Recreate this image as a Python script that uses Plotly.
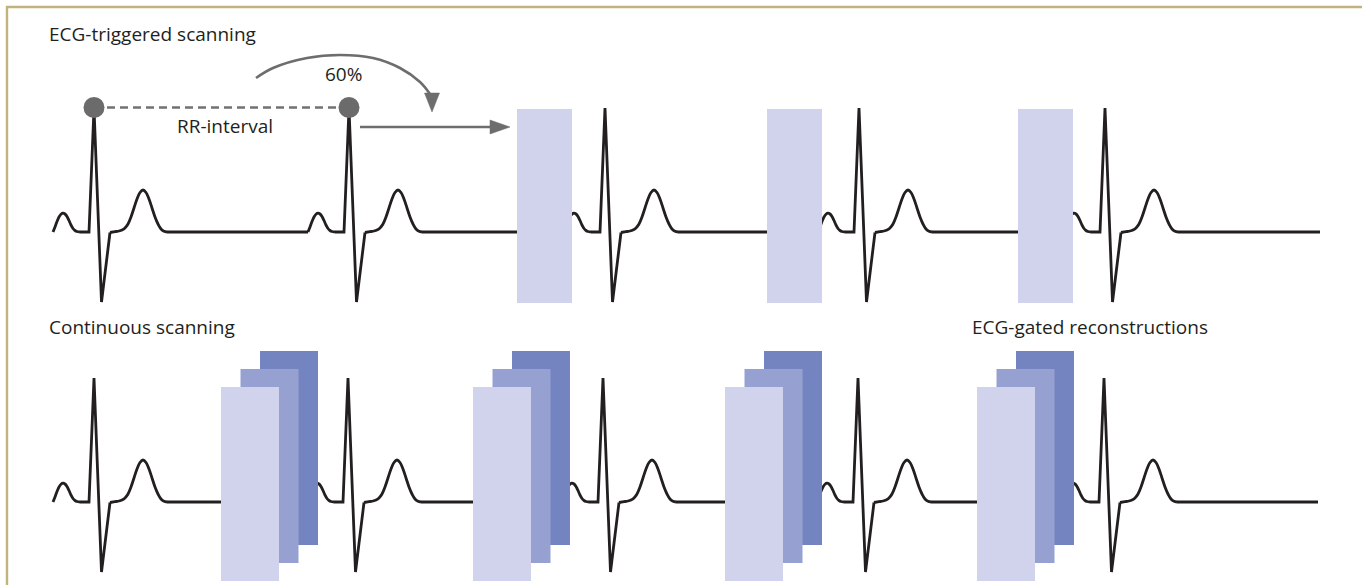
import plotly.graph_objects as go

# ---------------- data ----------------
# R-peak times of each beat (time axis, px units) per row
top_r_peaks = [94, 349, 605, 859, 1105]
bottom_r_peaks = [94, 348, 603, 858, 1104]
row_baselines = [232, 502]
row_starts = [53, 53]
row_ends = [1320, 1318]

# beat template: offset from R peak (dx) and height above baseline (dy)
p_wave_dx = [-41, -39, -37, -35, -33, -31, -29, -27, -25, -23, -21, -19, -17, -14]
p_wave_dy = [0, 5, 10.5, 15, 17.8, 18.8, 18, 15.5, 11.5, 7, 3.5, 1.5, 0.5, 0]
qrs_dx = [-14, -5, 0, 7.5, 16]
qrs_dy = [0, 0, 124, -70, -0.5]
t_wave_dx = [16, 21, 25, 28, 31, 34, 37, 40, 43, 46, 49, 52, 55, 58, 61, 64, 67, 70, 73]
t_wave_dy = [-0.5, 0.3, 1, 2, 4, 8, 15, 24, 33, 39.5, 42, 39.5, 33, 24, 15, 8, 3, 0.7, 0]

# triggered scan windows (top row) and gated reconstruction windows (bottom row)
triggered_scan_starts = [517, 767, 1018]
gated_recon_starts = [221, 473, 725, 977]

# RR-interval markers (top row, first two beats) and 60% arc
rr_beats = [0, 1]
arc_x = [256, 273, 307, 340, 373, 400, 420, 430]
arc_y = [78, 68, 58, 55, 58, 68, 82, 94]
arc_tip = (432, 112)
trigger_arrow_from = (360, 127)
trigger_arrow_to = (510, 127)

labels = {
    "top": "ECG-triggered scanning",
    "bottom": "Continuous scanning",
    "recon": "ECG-gated reconstructions",
    "rr": "RR-interval",
    "pct": "60%",
}

# ---------------- styles ----------------
ECG_COLOR = "#231F20"
GREY = "#6B6B6B"
LIGHT = "#D1D3ED"
MID = "#96A1D1"
DARK = "#7484C0"
BORDER = "#C2B37E"
FONT = "Open Sans"
W, H = 1362, 585
LW = 2.8

fig = go.Figure()


def build_row(peaks, base, start, end):
    lin_x, lin_y, spl_x, spl_y = [], [], [], []
    prev_end = start
    for r in peaks:
        p_start = r + p_wave_dx[0]
        if p_start > prev_end:
            lin_x += [prev_end, p_start, None]
            lin_y += [base, base, None]
        spl_x += [r + d for d in p_wave_dx] + [None]
        spl_y += [base - d for d in p_wave_dy] + [None]
        lin_x += [r + d for d in qrs_dx] + [None]
        lin_y += [base - d for d in qrs_dy] + [None]
        spl_x += [r + d for d in t_wave_dx] + [None]
        spl_y += [base - d for d in t_wave_dy] + [None]
        prev_end = r + t_wave_dx[-1]
    lin_x += [prev_end, end]
    lin_y += [base, base]
    return lin_x, lin_y, spl_x, spl_y


for peaks, base, s, e in zip([top_r_peaks, bottom_r_peaks], row_baselines, row_starts, row_ends):
    lx, ly, sx, sy = build_row(peaks, base, s, e)
    fig.add_trace(go.Scatter(x=lx, y=ly, mode="lines",
                             line=dict(color=ECG_COLOR, width=LW), hoverinfo="skip"))
    fig.add_trace(go.Scatter(x=sx, y=sy, mode="lines",
                             line=dict(color=ECG_COLOR, width=LW, shape="spline", smoothing=1),
                             hoverinfo="skip"))

# RR-interval dashed line and dots
top_base = row_baselines[0]
r_height = qrs_dy[2]
rr_x = [top_r_peaks[i] for i in rr_beats]
dot_y = top_base - r_height - 0.5
fig.add_trace(go.Scatter(x=rr_x, y=[dot_y, dot_y], mode="lines",
                         line=dict(color="#727272", width=2.5, dash="8px,5px"), hoverinfo="skip"))
fig.add_trace(go.Scatter(x=rr_x, y=[dot_y, dot_y], mode="markers",
                         marker=dict(color=GREY, size=21, line=dict(width=0)), hoverinfo="skip"))

# 60% arc with arrowhead
fig.add_trace(go.Scatter(x=arc_x, y=arc_y, mode="lines",
                         line=dict(color="#6D6D6D", width=2.6, shape="spline"), hoverinfo="skip"))
HEAD_LEN, HEAD_HALF = 19, 7.5
tx, ty = arc_tip
fig.add_trace(go.Scatter(x=[tx - HEAD_HALF, tx + HEAD_HALF, tx, tx - HEAD_HALF],
                         y=[ty - HEAD_LEN, ty - HEAD_LEN, ty, ty - HEAD_LEN],
                         mode="lines", fill="toself", fillcolor="#6D6D6D",
                         line=dict(color="#6D6D6D", width=0.5), hoverinfo="skip"))

# trigger arrow
(ax0, ay0), (ax1, ay1) = trigger_arrow_from, trigger_arrow_to
HEAD_LEN2, HEAD_HALF2 = 20, 7
fig.add_trace(go.Scatter(x=[ax0, ax1 - HEAD_LEN2 + 2], y=[ay0, ay1], mode="lines",
                         line=dict(color="#6D6D6D", width=2.6), hoverinfo="skip"))
fig.add_trace(go.Scatter(x=[ax1 - HEAD_LEN2, ax1 - HEAD_LEN2, ax1, ax1 - HEAD_LEN2],
                         y=[ay1 - HEAD_HALF2, ay1 + HEAD_HALF2, ay1, ay1 - HEAD_HALF2],
                         mode="lines", fill="toself", fillcolor="#6D6D6D",
                         line=dict(color="#6D6D6D", width=0.5), hoverinfo="skip"))

shapes = []
# top row scan windows
TOP_W, TOP_Y0, TOP_Y1 = 55, 109, 303
for x0 in triggered_scan_starts:
    shapes.append(dict(type="rect", xref="x", yref="y", x0=x0, x1=x0 + TOP_W,
                       y0=TOP_Y0, y1=TOP_Y1, fillcolor=LIGHT, line=dict(width=0), layer="above"))
# bottom row stacked reconstructions
BOT_W, BOT_Y0, BOT_Y1 = 58, 387, 581
STACK = [(39, -36, DARK), (19.5, -18, MID), (0, 0, LIGHT)]
for x0 in gated_recon_starts:
    for dx, dy, col in STACK:
        shapes.append(dict(type="rect", xref="x", yref="y", x0=x0 + dx, x1=x0 + dx + BOT_W,
                           y0=BOT_Y0 + dy, y1=BOT_Y1 + dy, fillcolor=col,
                           line=dict(width=0), layer="above"))
# border
shapes.append(dict(type="line", xref="x", yref="y", x0=7, x1=7, y0=6, y1=H,
                   line=dict(color=BORDER, width=2.4), layer="above"))
shapes.append(dict(type="line", xref="x", yref="y", x0=6, x1=W, y0=7, y1=7,
                   line=dict(color=BORDER, width=2.4), layer="above"))

FS = 19
ann = [
    dict(x=47, y=33.5, text=labels["top"], xanchor="left"),
    dict(x=47, y=326.5, text=labels["bottom"], xanchor="left"),
    dict(x=970, y=326.5, text=labels["recon"], xanchor="left"),
    dict(x=175, y=125.5, text=labels["rr"], xanchor="left"),
    dict(x=343, y=74, text=labels["pct"], xanchor="center"),
]
annotations = []
for a in ann:
    a.update(xref="x", yref="y", yanchor="middle", showarrow=False,
             font=dict(family=FONT, size=FS, color=ECG_COLOR))
    annotations.append(a)

fig.update_layout(
    width=W, height=H, margin=dict(l=0, r=0, t=0, b=0),
    paper_bgcolor="white", plot_bgcolor="white", showlegend=False,
    xaxis=dict(range=[0, W], visible=False, fixedrange=True),
    yaxis=dict(range=[H, 0], visible=False, fixedrange=True),
    shapes=shapes, annotations=annotations, hovermode=False,
)

fig.write_html("out.html", config={"displayModeBar": False},
               post_script="document.body.style.margin='0';document.body.style.overflow='hidden';")
